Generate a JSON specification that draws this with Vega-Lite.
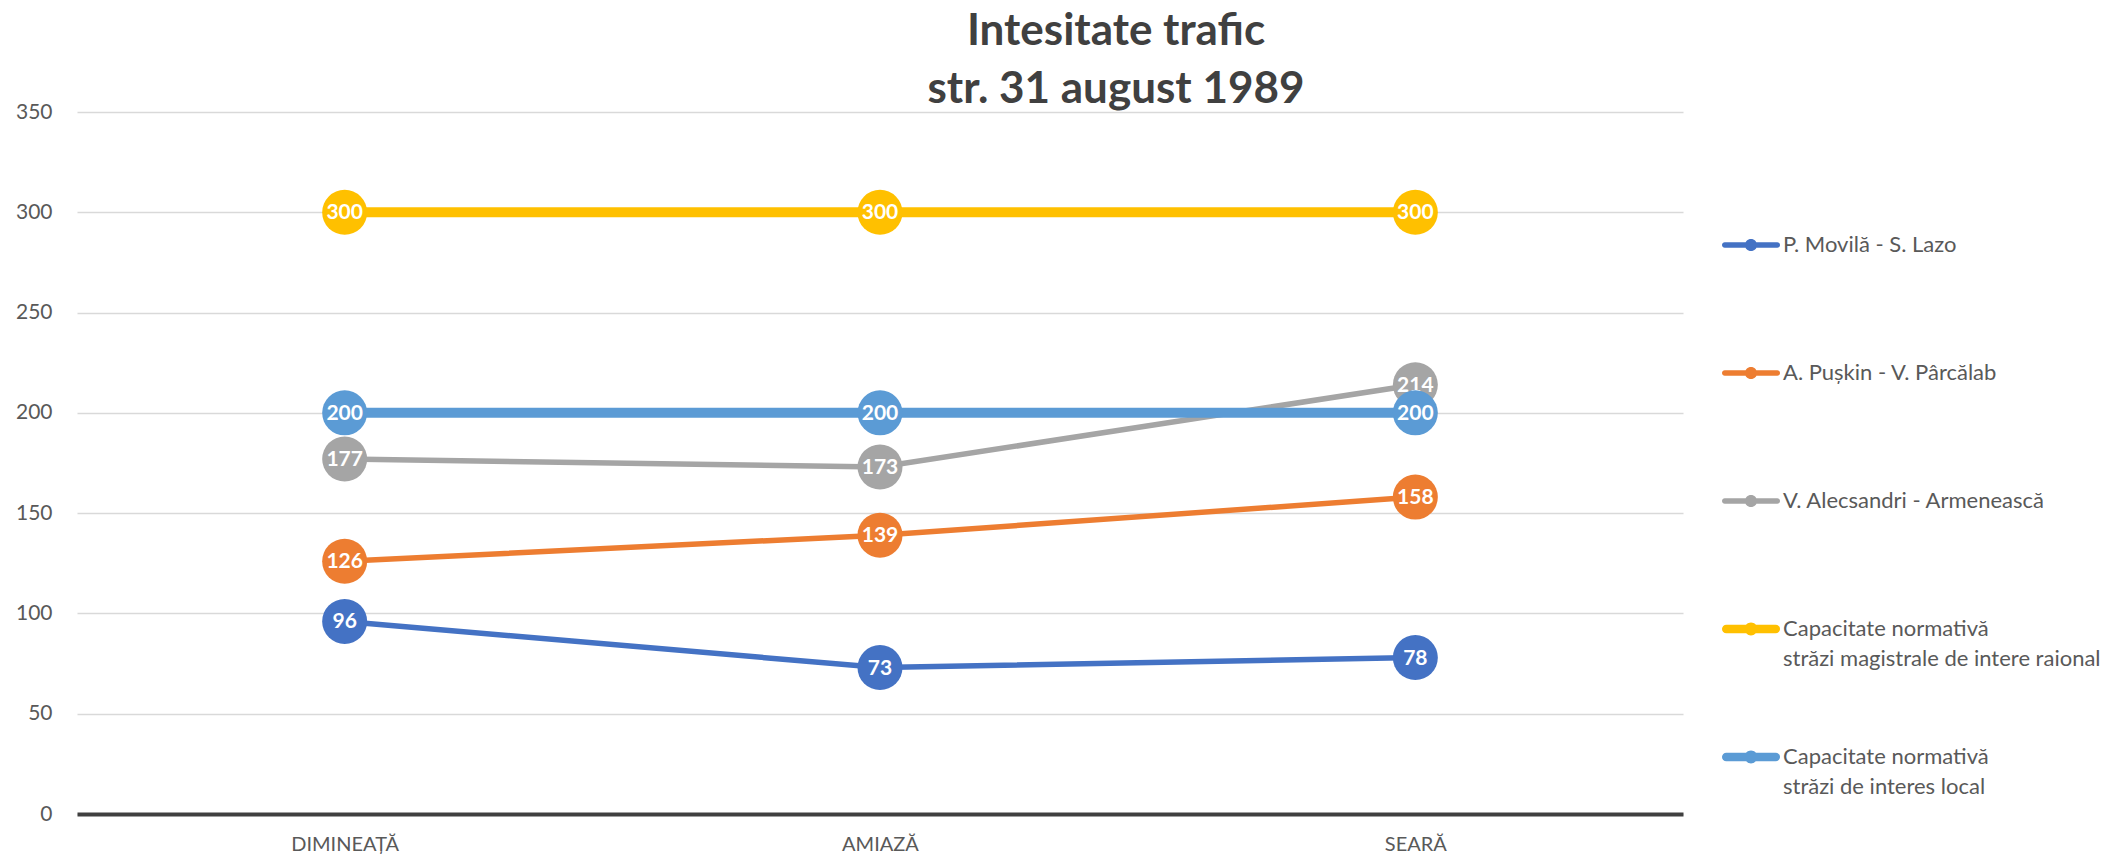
{
  "$schema": "https://vega.github.io/schema/vega-lite/v6.json",
  "width": 1606,
  "height": 702,
  "autosize": {"type": "none"},
  "padding": {"left": 77, "top": 112, "right": 440, "bottom": 45},
  "background": "white",
  "title": {
    "text": ["Intesitate trafic", "str. 31 august 1989"],
    "font": "Lato",
    "fontSize": 44,
    "fontWeight": "bold",
    "color": "#404040",
    "lineHeight": 58,
    "anchor": "middle",
    "frame": "group",
    "dx": 236,
    "offset": -11
  },
  "config": {
    "view": {"stroke": null},
    "font": "Lato"
  },
  "data": {
    "values": [
      {"time": "DIMINEAȚĂ", "series": "P. Movilă - S. Lazo", "value": 96},
      {"time": "AMIAZĂ", "series": "P. Movilă - S. Lazo", "value": 73},
      {"time": "SEARĂ", "series": "P. Movilă - S. Lazo", "value": 78},
      {"time": "DIMINEAȚĂ", "series": "A. Pușkin - V. Pârcălab", "value": 126},
      {"time": "AMIAZĂ", "series": "A. Pușkin - V. Pârcălab", "value": 139},
      {"time": "SEARĂ", "series": "A. Pușkin - V. Pârcălab", "value": 158},
      {"time": "DIMINEAȚĂ", "series": "V. Alecsandri - Armenească", "value": 177},
      {"time": "AMIAZĂ", "series": "V. Alecsandri - Armenească", "value": 173},
      {"time": "SEARĂ", "series": "V. Alecsandri - Armenească", "value": 214},
      {"time": "DIMINEAȚĂ", "series": "Capacitate normativă|străzi magistrale de intere raional", "value": 300},
      {"time": "AMIAZĂ", "series": "Capacitate normativă|străzi magistrale de intere raional", "value": 300},
      {"time": "SEARĂ", "series": "Capacitate normativă|străzi magistrale de intere raional", "value": 300},
      {"time": "DIMINEAȚĂ", "series": "Capacitate normativă|străzi de interes local", "value": 200},
      {"time": "AMIAZĂ", "series": "Capacitate normativă|străzi de interes local", "value": 200},
      {"time": "SEARĂ", "series": "Capacitate normativă|străzi de interes local", "value": 200}
    ]
  },
  "encoding": {
    "x": {
      "field": "time",
      "type": "nominal",
      "sort": ["DIMINEAȚĂ", "AMIAZĂ", "SEARĂ"],
      "scale": {"type": "point", "padding": 0.5},
      "axis": {
        "title": null,
        "labelAngle": 0,
        "labelFont": "Lato",
        "labelFontSize": 20,
        "labelColor": "#595959",
        "labelPadding": 20,
        "ticks": false,
        "domainColor": "#404040",
        "domainWidth": 4,
        "grid": false
      }
    },
    "y": {
      "field": "value",
      "type": "quantitative",
      "scale": {"domain": [0, 350], "nice": false},
      "axis": {
        "title": null,
        "values": [0, 50, 100, 150, 200, 250, 300, 350],
        "labelFont": "Lato",
        "labelFontSize": 21,
        "labelColor": "#595959",
        "labelPadding": 25,
        "domain": false,
        "ticks": false,
        "grid": true,
        "gridColor": "#d9d9d9",
        "gridWidth": 1.5
      }
    }
  },
  "layer": [
    {
      "transform": [{"filter": "datum.series == 'P. Movilă - S. Lazo'"}],
      "mark": {"type": "line", "strokeWidth": 5.5, "color": "#4472C4"},
      "encoding": {}
    },
    {
      "transform": [{"filter": "datum.series == 'A. Pușkin - V. Pârcălab'"}],
      "mark": {"type": "line", "strokeWidth": 5.5, "color": "#ED7D31"},
      "encoding": {}
    },
    {
      "transform": [{"filter": "datum.series == 'V. Alecsandri - Armenească'"}],
      "mark": {"type": "line", "strokeWidth": 5.5, "color": "#A5A5A5"},
      "encoding": {}
    },
    {
      "transform": [{"filter": "datum.series == 'Capacitate normativă|străzi magistrale de intere raional'"}],
      "mark": {"type": "line", "strokeWidth": 10, "color": "#FFC000"},
      "encoding": {}
    },
    {
      "transform": [{"filter": "datum.series != 'Capacitate normativă|străzi de interes local'"}],
      "mark": {"type": "point", "filled": true, "opacity": 1, "shape": "circle", "size": 2025},
      "encoding": {
        "color": {
          "field": "series",
          "type": "nominal",
          "scale": {
            "domain": ["P. Movilă - S. Lazo", "A. Pușkin - V. Pârcălab", "V. Alecsandri - Armenească", "Capacitate normativă|străzi magistrale de intere raional", "Capacitate normativă|străzi de interes local"],
            "range": ["#4472C4", "#ED7D31", "#A5A5A5", "#FFC000", "#5B9BD5"]
          },
          "legend": {
            "title": null,
            "orient": "none",
            "legendX": 1645,
            "legendY": 104,
            "direction": "vertical",
            "columns": 1,
            "gridAlign": "all",
            "rowPadding": 58,
            "symbolType": "M-0.905,-0.095 L0.905,-0.095 A0.095,0.095 0 0,1 0.905,0.095 L-0.905,0.095 A0.095,0.095 0 0,1 -0.905,-0.095 Z M-0.21,0 A0.21,0.21 0 1,1 0.21,0 A0.21,0.21 0 1,1 -0.21,0 Z",
            "symbolSize": 3364,
            "symbolStrokeWidth": 0,
            "symbolOpacity": 1,
            "labelFont": "Lato",
            "labelFontSize": 22,
            "labelColor": "#595959",
            "labelOffset": 3,
            "labelLimit": 400,
            "labelExpr": "split(datum.label, '|')",
            "encoding": {
              "labels": {"lineHeight": {"value": 30}},
              "symbols": {
                "shape": {
                  "condition": {
                    "test": "indexof(datum.value, 'Capacitate') === 0",
                    "value": "M-0.85,-0.15 L0.85,-0.15 A0.15,0.15 0 0,1 0.85,0.15 L-0.85,0.15 A0.15,0.15 0 0,1 -0.85,-0.15 Z M-0.22,0 A0.22,0.22 0 1,1 0.22,0 A0.22,0.22 0 1,1 -0.22,0 Z"
                  },
                  "value": "M-0.905,-0.095 L0.905,-0.095 A0.095,0.095 0 0,1 0.905,0.095 L-0.905,0.095 A0.095,0.095 0 0,1 -0.905,-0.095 Z M-0.21,0 A0.21,0.21 0 1,1 0.21,0 A0.21,0.21 0 1,1 -0.21,0 Z"
                }
              }
            }
          }
        }
      }
    },
    {
      "transform": [{"filter": "datum.series != 'Capacitate normativă|străzi de interes local'"}],
      "mark": {"type": "text", "color": "white", "font": "Lato", "fontWeight": "bold", "fontSize": 21, "align": "center", "baseline": "middle", "dy": 1},
      "encoding": {"text": {"field": "value", "type": "quantitative"}}
    },
    {
      "transform": [{"filter": "datum.series == 'Capacitate normativă|străzi de interes local'"}],
      "mark": {"type": "line", "strokeWidth": 10, "color": "#5B9BD5"},
      "encoding": {}
    },
    {
      "transform": [{"filter": "datum.series == 'Capacitate normativă|străzi de interes local'"}],
      "mark": {"type": "point", "filled": true, "opacity": 1, "shape": "circle", "size": 2025},
      "encoding": {
        "color": {"field": "series", "type": "nominal"}
      }
    },
    {
      "transform": [{"filter": "datum.series == 'Capacitate normativă|străzi de interes local'"}],
      "mark": {"type": "text", "color": "white", "font": "Lato", "fontWeight": "bold", "fontSize": 21, "align": "center", "baseline": "middle", "dy": 1},
      "encoding": {"text": {"field": "value", "type": "quantitative"}}
    }
  ]
}
